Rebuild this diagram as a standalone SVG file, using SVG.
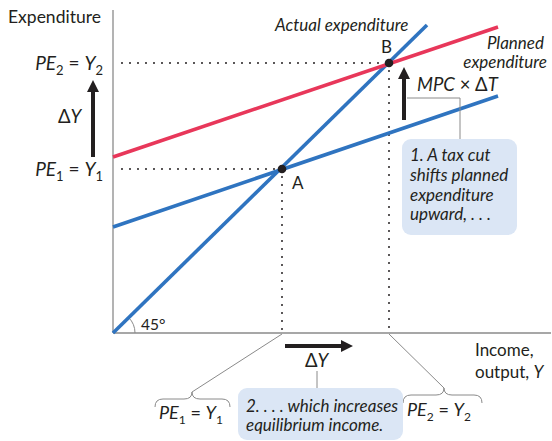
<svg xmlns="http://www.w3.org/2000/svg" width="552" height="441" viewBox="0 0 552 441">
<style>
text{font-family:Lato,"Open Sans","DejaVu Sans",sans-serif;fill:#231f20;}
.it{font-style:italic;}
.axis{stroke:#8a8a8a;stroke-width:1.3;fill:none;}
.dot{stroke:#231f20;stroke-width:2;stroke-linecap:round;stroke-dasharray:0 8;fill:none;}
.blue{stroke:#2f74c0;stroke-width:3.6;fill:none;}
.red{stroke:#e8375a;stroke-width:3.6;fill:none;}
.lead{stroke:#8a8a8a;stroke-width:1;fill:none;}
.box{fill:#dbe6f5;}
.arr{fill:#231f20;}
</style>
<g id="axes">
<line class="axis" x1="113" y1="10" x2="113" y2="333"/>
<line class="axis" x1="113" y1="333" x2="551" y2="333"/>
<path class="lead" d="M135,333 A22,22 0 0 0 128.7,317.6"/>
<text x="141" y="330" font-size="15.5">45°</text>
<text x="8" y="23" font-size="17.5">Expenditure</text>
<text x="475" y="356" font-size="17">Income,</text>
<text x="475" y="378" font-size="17">output, <tspan class="it">Y</tspan></text>
</g>
<g id="connectors">
<line class="dot" x1="122" y1="63" x2="384" y2="63"/>
<line class="dot" x1="122" y1="169" x2="277" y2="169"/>
<line class="dot" x1="282" y1="177" x2="282" y2="331"/>
<line class="dot" x1="389" y1="71" x2="389" y2="331"/>
<line class="blue" x1="113" y1="333" x2="427" y2="25"/>
<line class="red" x1="113" y1="157" x2="498" y2="27"/>
<line class="blue" x1="113" y1="227" x2="498" y2="96"/>
<polyline class="lead" points="407,98 460,98 460,139"/>
<line class="lead" x1="317" y1="371" x2="317" y2="388"/>
<line class="lead" x1="282" y1="334" x2="192" y2="392"/>
<line class="lead" x1="389" y1="334" x2="444" y2="388"/>
<path class="lead" d="M155,407 Q155,399 163,399 L184,399 Q192,399 192,392 Q192,399 200,399 L222,399 Q230,399 230,407"/>
<path class="lead" d="M403,403 Q403,395 411,395 L436,395 Q444,395 444,388 Q444,395 452,395 L474,395 Q482,395 482,403"/>
</g>
<g id="pointA">
<circle cx="282" cy="169" r="4.3" fill="#231f20"/>
<text x="292" y="189" font-size="17">A</text>
</g>
<g id="pointB">
<circle cx="389" cy="63" r="4.3" fill="#231f20"/>
<text x="381" y="53" font-size="17">B</text>
</g>
<g id="labels">
<text class="it" x="275" y="31" font-size="17">Actual expenditure</text>
<text class="it" x="544" y="49" font-size="17" text-anchor="end">Planned</text>
<text class="it" x="547" y="68" font-size="17" text-anchor="end">expenditure</text>
<text x="103" y="70" font-size="19" text-anchor="end"><tspan class="it">PE</tspan><tspan font-size="13" dy="5">2</tspan><tspan dy="-5"> = </tspan><tspan class="it">Y</tspan><tspan font-size="13" dy="5">2</tspan></text>
<text x="103" y="176" font-size="19" text-anchor="end"><tspan class="it">PE</tspan><tspan font-size="13" dy="5">1</tspan><tspan dy="-5"> = </tspan><tspan class="it">Y</tspan><tspan font-size="13" dy="5">1</tspan></text>
<text x="58" y="123" font-size="18.5">Δ<tspan class="it">Y</tspan></text>
<text x="417" y="91" font-size="18.5"><tspan class="it">MPC</tspan> × Δ<tspan class="it">T</tspan></text>
<text x="305" y="367" font-size="18.5">Δ<tspan class="it">Y</tspan></text>
<text x="159" y="419" font-size="18"><tspan class="it">PE</tspan><tspan font-size="12" dy="5">1</tspan><tspan dy="-5"> = </tspan><tspan class="it">Y</tspan><tspan font-size="12" dy="5">1</tspan></text>
<text x="407" y="416" font-size="18"><tspan class="it">PE</tspan><tspan font-size="12" dy="5">2</tspan><tspan dy="-5"> = </tspan><tspan class="it">Y</tspan><tspan font-size="12" dy="5">2</tspan></text>
</g>
<g id="arrowDY">
<path class="arr" d="M91,157 L95,157 L95,92 L99,92 L93,80 L87,92 L91,92 Z"/>
</g>
<g id="arrowMPC">
<path class="arr" d="M402,120 L406,120 L406,79 L410,79 L404,67 L398,79 L402,79 Z"/>
</g>
<g id="arrowDYx">
<path class="arr" d="M285,344 L341,344 L341,340 L353,346 L341,352 L341,348 L285,348 Z"/>
</g>
<g id="note1">
<rect class="box" x="402" y="139" width="115" height="96" rx="9"/>
<text class="it" x="410" y="161" font-size="17">1. A tax cut</text>
<text class="it" x="410" y="181" font-size="17">shifts planned</text>
<text class="it" x="410" y="201" font-size="17">expenditure</text>
<text class="it" x="410" y="220" font-size="17">upward, . . .</text>
</g>
<g id="note2">
<rect class="box" x="238" y="388" width="165" height="52" rx="9"/>
<text class="it" x="246" y="412" font-size="17">2. . . . which increases</text>
<text class="it" x="246" y="431" font-size="17">equilibrium income.</text>
</g>
</svg>
